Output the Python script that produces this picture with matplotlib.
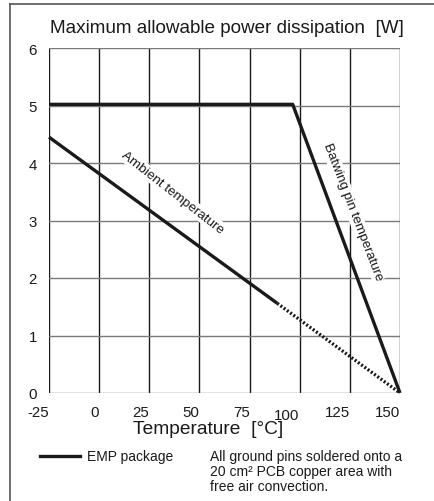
import matplotlib
matplotlib.use("Agg")
import matplotlib.pyplot as plt
import matplotlib.transforms as mtransforms
from matplotlib.lines import Line2D

plt.rcParams['font.family'] = ['Liberation Sans', 'DejaVu Sans']

# Data
batwing_x = [-25, 96.5, 150]
batwing_y = [5.02, 5.02, 0]
ambient_solid_x = [-25, 88.8]
ambient_solid_y = [4.45, 1.56]
ambient_dot_x = [88.8, 150]
ambient_dot_y = [1.56, 0]
x_ticks = [-25, 0, 25, 50, 75, 100, 125, 150]
y_ticks = [0, 1, 2, 3, 4, 5, 6]

W, H = 435, 502
fig = plt.figure(figsize=(W / 100, H / 100), dpi=100)
fig.patch.set_facecolor('white')

# Figure frame (top and left)
fig.add_artist(Line2D([10 / W, 1], [1 - 5 / H, 1 - 5 / H], color='#555555', lw=1.2))
fig.add_artist(Line2D([10 / W, 10 / W], [0, 1 - 5 / H], color='#555555', lw=1.2))

ax = fig.add_axes([49 / W, 1 - 394 / H, (400 - 49) / W, (394 - 49) / H])
ax.set_xlim(-25, 150)
ax.set_ylim(0, 6)

# grid
for xv in x_ticks:
    ax.axvline(xv, color='#1a1a1a', lw=1.0, zorder=1)
for yv in y_ticks:
    ax.axhline(yv, color='#7a7a7a', lw=1.0, zorder=1)
for s in ax.spines.values():
    s.set_visible(False)

ax.plot(batwing_x, batwing_y, color='#1a1a1a', lw=2.4, solid_capstyle='butt', zorder=3, clip_on=False)
ax.plot(ambient_solid_x, ambient_solid_y, color='#1a1a1a', lw=2.4, solid_capstyle='butt', zorder=3, clip_on=False)
ax.plot(ambient_dot_x, ambient_dot_y, color='#1a1a1a', lw=2.4, ls=(0, (0.6, 0.6)), zorder=3, clip_on=False)

ax.set_xticks(x_ticks)
ax.set_yticks(y_ticks)
ax.set_xticklabels([str(v) for v in x_ticks])
ax.set_yticklabels([str(v) for v in y_ticks])
ax.tick_params(length=0, labelsize=10.8, colors='#1a1a1a')
ax.tick_params(axis='y', pad=8.6)
ax.tick_params(axis='x', pad=8.6)
for lab, v in zip(ax.get_xticklabels(), x_ticks):
    lab.set_ha('right')
    if v == 100:
        lab.set_transform(lab.get_transform() + mtransforms.ScaledTranslation(0, -3 / 100, fig.dpi_scale_trans))

# in-plot labels
bb = dict(facecolor='white', edgecolor='none', pad=1.0)
ax.text(36.5, 3.5, 'Ambient temperature', rotation=-38, rotation_mode='anchor',
        ha='center', va='center', fontsize=9.7, color='#1a1a1a', bbox=bb, zorder=2)
ax.text(126.5, 3.17, 'Batwing pin temperature', rotation=-69, rotation_mode='anchor',
        ha='center', va='center', fontsize=9.7, color='#1a1a1a', bbox=bb, zorder=2)

# title and x label
fig.text(227 / W, 1 - 29 / H, 'Maximum allowable power dissipation  [W]', ha='center', va='center',
         fontsize=13.6, color='#1a1a1a')
fig.text(208 / W, 1 - 430 / H, 'Temperature  [°C]', ha='center', va='center',
         fontsize=13.8, color='#1a1a1a')

# legend / notes
fig.add_artist(Line2D([40 / W, 80 / W], [1 - 457 / H, 1 - 457 / H], color='#1a1a1a', lw=2.4))
fig.text(87 / W, 1 - 457 / H, 'EMP package', ha='left', va='center', fontsize=10, color='#1a1a1a')
fig.text(210 / W, 1 - 457 / H, 'All ground pins soldered onto a', ha='left', va='center', fontsize=10, color='#1a1a1a')
fig.text(210 / W, 1 - 472 / H, '20 cm² PCB copper area with', ha='left', va='center', fontsize=10, color='#1a1a1a')
fig.text(210 / W, 1 - 487 / H, 'free air convection.', ha='left', va='center', fontsize=10, color='#1a1a1a')

fig.savefig('out.png', dpi=100)
